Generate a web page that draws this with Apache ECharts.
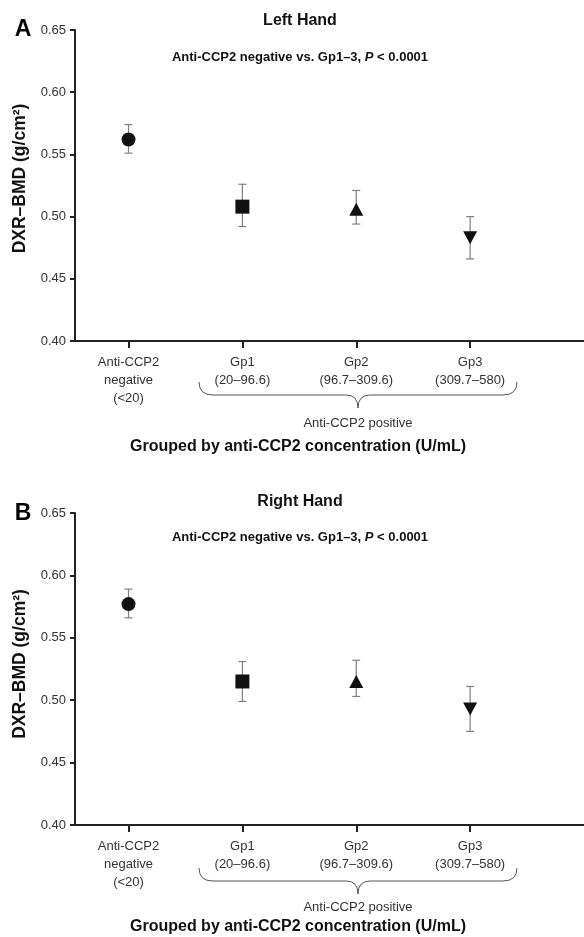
<!DOCTYPE html>
<html lang="en">
<head>
<meta charset="UTF-8">
<title>DXR-BMD by anti-CCP2 group</title>
<script src="https://cdn.jsdelivr.net/npm/echarts@6/dist/echarts.min.js"></script>
<style>
  html, body { margin: 0; padding: 0; background: #fff; }
  #main { width: 584px; height: 937px; }
</style>
</head>
<body>
<div id="main"></div>
<script>
// categories (x positions 0..3)
const groups = ['Anti-CCP2\nnegative\n(<20)', 'Gp1\n(20–96.6)', 'Gp2\n(96.7–309.6)', 'Gp3\n(309.7–580)'];
const symbols = ['circle', 'rect', 'triangle', 'triangle'];
const symbolSizes = [14, 14, [14, 13], [14, 13]];
const rotations = [0, 0, 0, 180];

// left hand
const leftMean = [0.562, 0.508, 0.506, 0.483];
const leftLow  = [0.551, 0.492, 0.494, 0.466];
const leftHigh = [0.574, 0.526, 0.521, 0.500];

// right hand
const rightMean = [0.577, 0.515, 0.515, 0.493];
const rightLow  = [0.566, 0.499, 0.503, 0.475];
const rightHigh = [0.589, 0.531, 0.532, 0.511];

const FONT = 'Liberation Sans, Arial, sans-serif';
let chart = echarts.init(document.getElementById('main'));

function makeX(idx) {
  return {
    gridIndex: idx, type: 'value', min: -0.47, max: 4,
    splitLine: { show: false },
    axisLine: { onZero: false, lineStyle: { color: '#222', width: 2 } },
    axisTick: { customValues: [0, 1, 2, 3], length: 7, lineStyle: { color: '#222', width: 2 } },
    axisLabel: {
      customValues: [0, 1, 2, 3], margin: 12,
      formatter: v => groups[Math.round(v)],
      color: '#333', fontSize: 13, lineHeight: 18, fontFamily: FONT
    }
  };
}
function makeY(idx, shift) {
  return {
    gridIndex: idx, type: 'value', min: 0.4, max: 0.65, interval: 0.05,
    name: 'DXR–BMD (g/cm²)', nameLocation: 'middle', nameRotate: 90, nameGap: 46,
    nameTextStyle: { fontSize: 17.5, fontWeight: 'bold', color: '#111', fontFamily: FONT,
                     padding: [0, 0, 0, shift] },
    splitLine: { show: false },
    axisLine: { show: true, onZero: false, lineStyle: { color: '#222', width: 2 } },
    axisTick: { show: true, length: 5, lineStyle: { color: '#222', width: 2 } },
    axisLabel: { formatter: v => v.toFixed(2), margin: 9, color: '#333', fontSize: 13, fontFamily: FONT }
  };
}

function errSeries(idx, lo, hi) {
  return {
    type: 'custom', xAxisIndex: idx, yAxisIndex: idx, z: 1,
    data: lo.map((l, i) => [i, l, hi[i]]),
    renderItem: function (params, api) {
      const x = api.value(0);
      const p1 = api.coord([x, api.value(1)]);
      const p2 = api.coord([x, api.value(2)]);
      const st = { stroke: '#808080', lineWidth: 1.2 };
      return {
        type: 'group',
        children: [
          { type: 'line', shape: { x1: p1[0], y1: p1[1], x2: p2[0], y2: p2[1] }, style: st },
          { type: 'line', shape: { x1: p1[0] - 4, y1: p1[1], x2: p1[0] + 4, y2: p1[1] }, style: st },
          { type: 'line', shape: { x1: p2[0] - 4, y1: p2[1], x2: p2[0] + 4, y2: p2[1] }, style: st }
        ]
      };
    }
  };
}
function pointSeries(idx, mean) {
  return {
    type: 'scatter', xAxisIndex: idx, yAxisIndex: idx, z: 3,
    data: mean.map((m, i) => ({
      value: [i, m], symbol: symbols[i], symbolSize: symbolSizes[i], symbolRotate: rotations[i]
    })),
    itemStyle: { color: '#111', opacity: 1 }
  };
}

// curly brace under Gp1-Gp3, y0 = top of its arms
function brace(y0) {
  const y1 = y0 + 13, y2 = y0 + 26;
  const st = { stroke: '#555', lineWidth: 1, fill: null };
  const q = (x1, ya, x2, yb, cx, cy) => ({
    type: 'bezierCurve', shape: { x1: x1, y1: ya, x2: x2, y2: yb, cpx1: cx, cpy1: cy }, style: st
  });
  const l = (x1, x2) => ({ type: 'line', shape: { x1: x1, y1: y1, x2: x2, y2: y1 }, style: st });
  return {
    type: 'group',
    children: [
      q(199, y0, 213, y1, 199, y1), l(213, 346),
      q(346, y1, 358, y2, 358, y1), q(358, y2, 370, y1, 358, y1),
      l(370, 503), q(503, y1, 517, y0, 517, y1)
    ]
  };
}
function txt(x, y, text, size, bold, color) {
  return {
    type: 'text', x: x, y: y,
    style: { text: text, fontSize: size, fontWeight: bold ? 'bold' : 'normal', fill: color || '#111',
             fontFamily: FONT, align: 'center', verticalAlign: 'middle' }
  };
}
function sub(x, y) {
  return {
    type: 'text', x: x, y: y,
    style: {
      text: '{b|Anti-CCP2 negative vs. Gp1–3, }{i|P}{b| < 0.0001}',
      align: 'center', verticalAlign: 'middle',
      rich: {
        b: { fontSize: 13, fontWeight: 'bold', fill: '#111', fontFamily: FONT },
        i: { fontSize: 13, fontWeight: 'bold', fontStyle: 'italic', fill: '#111', fontFamily: FONT }
      }
    }
  };
}

let option = {
  backgroundColor: '#fff',
  animation: false,
  grid: [
    { left: 75, right: 0, top: 30, height: 311 },
    { left: 75, right: 0, top: 513, height: 312 }
  ],
  xAxis: [makeX(0), makeX(1)],
  yAxis: [makeY(0, 14), makeY(1, 10)],
  series: [
    errSeries(0, leftLow, leftHigh), pointSeries(0, leftMean),
    errSeries(1, rightLow, rightHigh), pointSeries(1, rightMean)
  ],
  graphic: [
    txt(23, 30, 'A', 23, true, '#000'),
    txt(300, 21, 'Left Hand', 16, true),
    sub(300, 57),
    brace(382),
    txt(358, 423, 'Anti-CCP2 positive', 13, false, '#333'),
    txt(298, 447, 'Grouped by anti-CCP2 concentration (U/mL)', 16, true),

    txt(23, 514, 'B', 23, true, '#000'),
    txt(300, 502, 'Right Hand', 16, true),
    sub(300, 537),
    brace(868),
    txt(358, 907, 'Anti-CCP2 positive', 13, false, '#333'),
    txt(298, 927, 'Grouped by anti-CCP2 concentration (U/mL)', 16, true)
  ]
};
chart.setOption(option);
</script>
</body>
</html>
